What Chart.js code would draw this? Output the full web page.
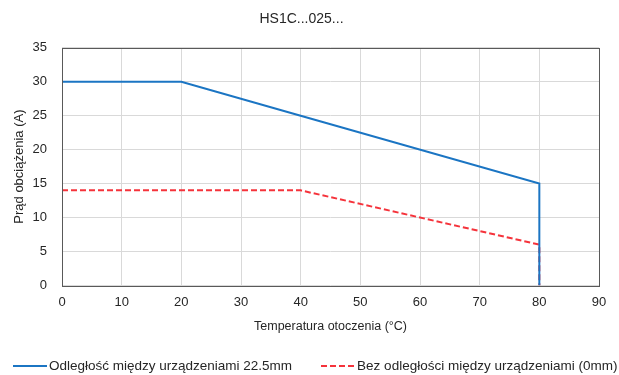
<!DOCTYPE html>
<html lang="pl">
<head>
    <meta charset="UTF-8">
    <title>HS1C...025...</title>
    <script src="https://cdn.jsdelivr.net/npm/chart.js"></script>
    <style>
        html, body { margin: 0; padding: 0; background: #fff; }
        #wrap { position: relative; width: 619px; height: 375px; }
        #legend {
            position: absolute; left: 13px; top: 358px;
            display: flex; align-items: center;
            font-family: Arial, "Liberation Sans", sans-serif;
            font-size: 13.5px; color: #262626; white-space: nowrap;
        }
        #legend .item { display: flex; align-items: center; margin-right: 29px; }
        #legend svg { margin-right: 2px; }
    </style>
</head>
<body>
    <div id="wrap">
        <canvas id="derating-chart"></canvas>
        <div id="legend"></div>
    </div>

    <script>
        const tempsSpaced = [0, 20, 40, 80, 80];
        const currentSpaced = [30, 30, 25, 15, 0];
        const tempsNoGap = [0, 40, 80, 80];
        const currentNoGap = [14, 14, 6, 0];
        const xTicks = [0, 10, 20, 30, 40, 50, 60, 70, 80, 90];
        const yTicks = [0, 5, 10, 15, 20, 25, 30, 35];

        const toPoints = (xs, ys) => xs.map((x, i) => ({ x: x, y: ys[i] }));

        // ramka wokol obszaru wykresu
        const frame = {
            id: 'frame',
            afterDatasetsDraw(chart) {
                const a = chart.chartArea;
                const ctx = chart.ctx;
                ctx.save();
                ctx.strokeStyle = '#595959';
                ctx.lineWidth = 1;
                ctx.strokeRect(Math.round(a.left) + 0.5, Math.round(a.top) + 0.5,
                    Math.round(a.right - a.left), Math.round(a.bottom - a.top));
                ctx.restore();
            }
        };

        Chart.defaults.font.family = 'Arial, "Liberation Sans", sans-serif';
        Chart.defaults.font.size = 13;
        Chart.defaults.color = '#262626';

        const chart = new Chart(document.getElementById('derating-chart'), {
            type: 'line',
            data: {
                datasets: [{
                    label: 'Odległość między urządzeniami 22.5mm',
                    data: toPoints(tempsSpaced, currentSpaced),
                    borderColor: '#1b75c3',
                    backgroundColor: '#1b75c3',
                    borderWidth: 2,
                    pointRadius: 0,
                    tension: 0
                }, {
                    label: 'Bez odległości między urządzeniami (0mm)',
                    data: toPoints(tempsNoGap, currentNoGap),
                    borderColor: '#f5333b',
                    backgroundColor: '#f5333b',
                    borderWidth: 2,
                    borderDash: [6, 3],
                    pointRadius: 0,
                    tension: 0
                }]
            },
            options: {
                responsive: true,
                maintainAspectRatio: false,
                animation: false,
                layout: { padding: { left: 4, right: 20, top: 0, bottom: 41 } },
                plugins: {
                    title: {
                        display: true,
                        text: 'HS1C...025...',
                        font: { size: 14, weight: 'normal' },
                        color: '#262626',
                        padding: { top: 11, bottom: 20 }
                    },
                    legend: { display: false },
                    tooltip: { enabled: false }
                },
                scales: {
                    x: {
                        type: 'linear',
                        min: 0,
                        max: 90,
                        afterBuildTicks: axis => { axis.ticks = xTicks.map(v => ({ value: v })); },
                        grid: { color: '#d9d9d9', drawTicks: false },
                        border: { display: false },
                        ticks: { padding: 9, color: '#262626' },
                        title: {
                            display: true,
                            text: 'Temperatura otoczenia (°C)',
                            font: { size: 12.5 },
                            color: '#262626',
                            padding: { top: 0, bottom: 0 }
                        }
                    },
                    y: {
                        min: 0,
                        max: 35,
                        afterBuildTicks: axis => { axis.ticks = yTicks.map(v => ({ value: v })); },
                        afterFit: axis => { axis.width = 58; },
                        grid: { color: '#d9d9d9', drawTicks: false },
                        border: { display: false },
                        ticks: { padding: 15, color: '#262626' },
                        title: {
                            display: true,
                            text: 'Prąd obciążenia (A)',
                            font: { size: 13 },
                            color: '#262626',
                            padding: { top: 8, bottom: 0 }
                        }
                    }
                }
            },
            plugins: [frame]
        });

        // legenda pod wykresem
        const legend = document.getElementById('legend');
        chart.data.datasets.forEach(ds => {
            const item = document.createElement('div');
            item.className = 'item';
            const dash = ds.borderDash ? ds.borderDash.join(' ') : 'none';
            item.innerHTML =
                '<svg width="34" height="4"><line x1="0" y1="2" x2="34" y2="2" stroke="' +
                ds.borderColor + '" stroke-width="2" stroke-dasharray="' + dash + '"/></svg>';
            const label = document.createElement('span');
            label.textContent = ds.label;
            item.appendChild(label);
            legend.appendChild(item);
        });
    </script>
</body>
</html>
